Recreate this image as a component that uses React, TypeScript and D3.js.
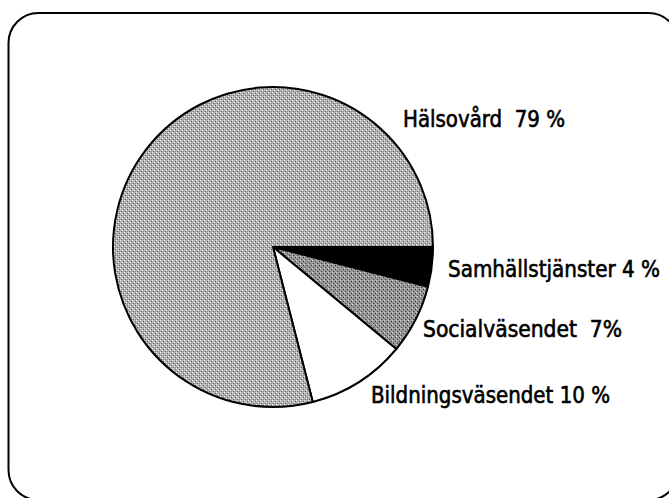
import { useMemo } from 'react';
import * as d3 from 'd3';

const categories = ['Samhällstjänster', 'Socialväsendet', 'Bildningsväsendet', 'Hälsovård'];
const shares = [4, 7, 10, 79];
const labels = ['Samhällstjänster 4 %', 'Socialväsendet  7%', 'Bildningsväsendet 10 %', 'Hälsovård  79 %'];
const fills = ['#000000', 'url(#dither2)', '#ffffff', 'url(#dither)'];

const W = 669;
const H = 498;
const cx = 273;
const cy = 247;
const radius = 160;

// label start (relative to pie centre) and printed width
const labelOffsets: [number, number][] = [
  [175, 30],
  [150, 90],
  [98, 156],
  [130, -120],
];
const labelWidths = [212, 199, 239, 162];

const App = () => {
  const arcs = useMemo(() => {
    const pie = d3.pie<number>()
      .sort(null)
      .startAngle(Math.PI / 2)
      .endAngle(Math.PI / 2 + 2 * Math.PI);
    return pie(shares);
  }, []);

  const arc = d3.arc<d3.PieArcDatum<number>>()
    .innerRadius(0)
    .outerRadius(radius);

  return (
    <svg width={W} height={H} style={{ position: 'absolute', left: 0, top: 0, background: '#fff' }}>
      <defs>
        <pattern id="dither" width="4" height="4" patternUnits="userSpaceOnUse">
          <rect width="4" height="4" fill="#b4b4b4" />
          <rect x="0" y="0" width="1" height="1" fill="#5e5e5e" />
          <rect x="2" y="2" width="1" height="1" fill="#5e5e5e" />
          <rect x="2" y="0" width="1" height="1" fill="#909090" />
          <rect x="3" y="1" width="1" height="1" fill="#eee" />
          <rect x="1" y="3" width="1" height="1" fill="#eee" />
        </pattern>
        <pattern id="dither2" width="4" height="4" patternUnits="userSpaceOnUse">
          <rect width="4" height="4" fill="#979797" />
          <rect x="0" y="0" width="1" height="1" fill="#3a3a3a" />
          <rect x="2" y="2" width="1" height="1" fill="#3a3a3a" />
          <rect x="3" y="1" width="1" height="1" fill="#dcdcdc" />
        </pattern>
      </defs>
      <rect x={8.5} y={13} width={670} height={487} rx={30} ry={30}
        fill="none" stroke="#000" strokeWidth={2} />
      <g transform={`translate(${cx},${cy})`}>
        {arcs.map((a, i) => (
          <path key={categories[i]} d={arc(a) || ''}
            fill={fills[i]}
            stroke="#000" strokeWidth={2} strokeLinejoin="round" />
        ))}
        {labels.map((t, i) => (
          <text key={t} x={labelOffsets[i][0]} y={labelOffsets[i][1]}
            fontFamily="'DejaVu Sans Condensed', 'Liberation Sans Narrow', sans-serif"
            fontSize={23} fill="#000" stroke="#000" strokeWidth={0.6}
            textLength={labelWidths[i]} lengthAdjust="spacingAndGlyphs"
            style={{ whiteSpace: 'pre' }}>
            {t}
          </text>
        ))}
      </g>
    </svg>
  );
};

export default App;
